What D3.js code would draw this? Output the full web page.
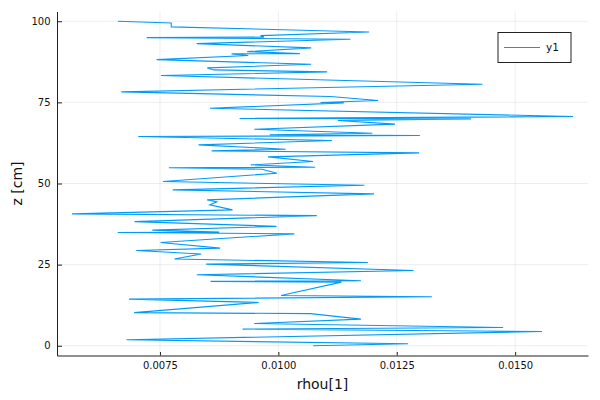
<!DOCTYPE html>
<html>
<head>
<meta charset="utf-8">
<script src="https://cdn.jsdelivr.net/npm/d3@7"></script>
<style>
  body { margin: 0; background: #fff; }
  svg { display: block; font-family: "DejaVu Sans", sans-serif; }
</style>
</head>
<body>
<svg id="chart" width="600" height="400"></svg>
<script>
// z positions (cm) and the rhou[1] value at each of them
const zValues = [0, 0.6, 1.85, 4.41, 5.13, 5.65, 6.88, 8.21, 9.9, 10.2, 13.35, 14.37, 15.09, 15.5,
  19.61, 19.85, 20.05, 21.87, 23.2, 25.15, 25.66, 26.75, 28.28, 29.36, 30.08, 31.82, 34.49, 34.9,
  35.01, 35.62, 36.8, 38.24, 40.1, 40.65, 41.88, 43.42, 44.35, 44.96, 46.81, 48.04, 49.48, 50.61,
  53.18, 54.41, 54.85, 55.03, 55.74, 56.77, 58.21, 59.44, 60.06, 60.57, 61.9, 63.24, 64.47, 64.8,
  65.0, 65.5, 66.73, 68.3, 69.4, 69.9, 70.05, 70.63, 73.2, 74.85, 74.95, 75.56, 76.79, 78.23,
  80.59, 83.26, 84.39, 85.0, 85.62, 86.75, 88.18, 89.42, 89.93, 90.03, 90.65, 91.78, 93.11,
  94.45, 94.95, 95.1, 95.58, 96.7, 98.25, 99.48, 100];

const rhouValues = [0.010734, 0.01274, 0.006795, 0.015567, 0.009244, 0.014746, 0.009491, 0.011744,
  0.010676, 0.006955, 0.009586, 0.006846, 0.013241, 0.010058, 0.01133, 0.008568, 0.011744,
  0.008278, 0.012856, 0.008474, 0.01189, 0.007805, 0.00837, 0.007, 0.00877, 0.007514, 0.010336,
  0.006608, 0.00875, 0.007338, 0.00996, 0.006963, 0.010812, 0.005643, 0.009032, 0.008552, 0.0087,
  0.008496, 0.01202, 0.007769, 0.011817, 0.007565, 0.009971, 0.009658, 0.007689, 0.010778,
  0.009419, 0.010734, 0.009782, 0.012972, 0.00859, 0.010153, 0.008314, 0.011134, 0.007042,
  0.012987, 0.009818, 0.011984, 0.009491, 0.012464, 0.011257, 0.01407, 0.009181, 0.016221,
  0.008555, 0.011382, 0.01089, 0.012106, 0.0111, 0.006684, 0.01431, 0.007521, 0.01103, 0.008639,
  0.008499, 0.010693, 0.00743, 0.009364, 0.009012, 0.010454, 0.009342, 0.010693, 0.008274,
  0.011522, 0.007219, 0.009694, 0.009624, 0.011916, 0.007739, 0.007739, 0.006614];

const xTicks = [0.0075, 0.0100, 0.0125, 0.0150];
const yTicks = [0, 25, 50, 75, 100];
const seriesName = "y1";
const xTitle = "rhou[1]";
const yTitle = "z [cm]";

// plot area, same as the Plots.jl/GR default layout for 600x400
const margin = { left: 57, right: 12, top: 11.5, bottom: 44.5 };
const width = 600 - margin.left - margin.right;
const height = 400 - margin.top - margin.bottom;
const lineColor = "#009af9";

const svg = d3.select("#chart");
const g = svg.append("g").attr("transform", `translate(${margin.left},${margin.top})`);

// 3% padding on each side like Plots does
function padded(extent) {
  const pad = (extent[1] - extent[0]) * 0.03;
  return [extent[0] - pad, extent[1] + pad];
}

const x = d3.scaleLinear().domain(padded(d3.extent(rhouValues))).range([0, width]);
const y = d3.scaleLinear().domain(padded(d3.extent(zValues))).range([height, 0]);

// grid
g.append("g")
  .selectAll("line.vgrid")
  .data(xTicks)
  .enter().append("line")
  .attr("x1", d => x(d)).attr("x2", d => x(d))
  .attr("y1", 0).attr("y2", height)
  .attr("stroke", "#000").attr("stroke-opacity", 0.1).attr("stroke-width", 0.7);

g.append("g")
  .selectAll("line.hgrid")
  .data(yTicks)
  .enter().append("line")
  .attr("x1", 0).attr("x2", width)
  .attr("y1", d => y(d)).attr("y2", d => y(d))
  .attr("stroke", "#000").attr("stroke-opacity", 0.1).attr("stroke-width", 0.7);

// axes
const xAxis = g.append("g")
  .attr("transform", `translate(0,${height})`)
  .call(d3.axisBottom(x).tickValues(xTicks).tickFormat(d3.format(".4f"))
    .tickSize(-3.5).tickSizeOuter(0).tickPadding(6.5));

const yAxis = g.append("g")
  .call(d3.axisLeft(y).tickValues(yTicks).tickFormat(d3.format("d"))
    .tickSize(-5).tickSizeOuter(0).tickPadding(6.5));

[xAxis, yAxis].forEach(a => {
  a.select(".domain").attr("stroke", "#222").attr("stroke-width", 1);
  a.selectAll(".tick line").attr("stroke", "#222").attr("stroke-width", 1);
  a.selectAll(".tick text")
    .attr("fill", "#111")
    .style("font-size", "10px")
    .style("font-family", "DejaVu Sans, sans-serif");
});

// the series
const line = d3.line()
  .x((d, i) => x(rhouValues[i]))
  .y(d => y(d));

g.append("path")
  .datum(zValues)
  .attr("fill", "none")
  .attr("stroke", lineColor)
  .attr("stroke-width", 1.1)
  .attr("stroke-linejoin", "miter")
  .attr("d", line);

// axis titles
svg.append("text")
  .attr("x", margin.left + width / 2)
  .attr("y", 389)
  .attr("text-anchor", "middle")
  .style("font-size", "14px")
  .attr("fill", "#111")
  .text(xTitle);

svg.append("text")
  .attr("transform", `translate(22,${margin.top + height / 2}) rotate(-90)`)
  .attr("text-anchor", "middle")
  .style("font-size", "14px")
  .attr("fill", "#111")
  .text(yTitle);

// legend
const legend = svg.append("g").attr("transform", "translate(498,32.5)");
legend.append("rect")
  .attr("width", 73).attr("height", 30)
  .attr("fill", "#fff").attr("stroke", "#222").attr("stroke-width", 1);
legend.append("line")
  .attr("x1", 6).attr("x2", 42).attr("y1", 15).attr("y2", 15)
  .attr("stroke", lineColor).attr("stroke-width", 1.1);
legend.append("text")
  .attr("x", 48).attr("y", 15).attr("dy", "0.35em")
  .style("font-size", "10.5px")
  .attr("fill", "#111")
  .text(seriesName);
</script>
</body>
</html>
